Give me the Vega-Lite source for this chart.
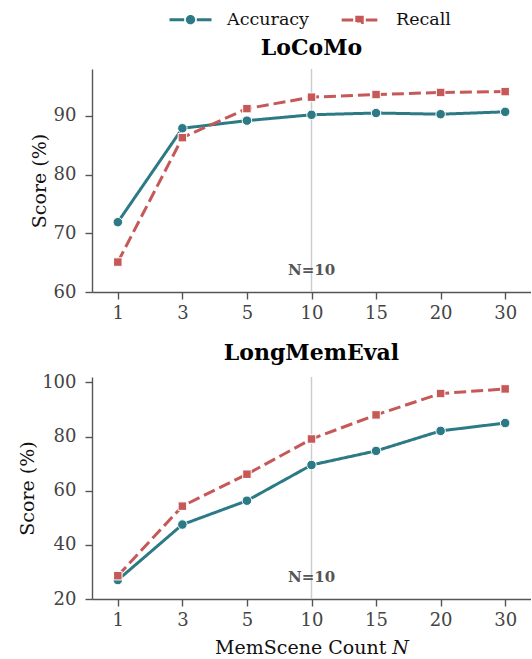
{
  "$schema": "https://vega.github.io/schema/vega-lite/v6.json",
  "padding": {"left": 18, "right": 0, "top": -3, "bottom": 0},
  "config": {
    "font": "DejaVu Serif",
    "view": {"stroke": null},
    "axis": {"grid": false, "domainColor": "#555", "tickColor": "#555", "labelFont": "DejaVu Serif", "titleFont": "DejaVu Serif", "labelColor": "#444", "labelFontSize": 18, "titleFontSize": 19, "titleFontWeight": "normal", "titleColor": "#111", "domainWidth": 1.4, "tickWidth": 1.4, "tickSize": 7, "labelPadding": 9},
    "axisX": {"titlePadding": 9, "labelPadding": 5},
    "title": {"font": "DejaVu Serif", "fontSize": 22, "fontWeight": "bold", "color": "#000", "offset": 8},
    "legend": {"labelFont": "DejaVu Serif", "labelFontSize": 17.5, "labelColor": "#111", "title": null, "symbolStrokeWidth": 3, "symbolSize": 1764, "columnPadding": 26, "labelOffset": 14},
    "text": {"font": "DejaVu Serif"}
  },
  "datasets": {
    "locomo": [
      {"N": 1, "metric": "Accuracy", "score": 71.9},
      {"N": 3, "metric": "Accuracy", "score": 87.9},
      {"N": 5, "metric": "Accuracy", "score": 89.2},
      {"N": 10, "metric": "Accuracy", "score": 90.2},
      {"N": 15, "metric": "Accuracy", "score": 90.5},
      {"N": 20, "metric": "Accuracy", "score": 90.3},
      {"N": 30, "metric": "Accuracy", "score": 90.7},
      {"N": 1, "metric": "Recall", "score": 65.1},
      {"N": 3, "metric": "Recall", "score": 86.3},
      {"N": 5, "metric": "Recall", "score": 91.25},
      {"N": 10, "metric": "Recall", "score": 93.2},
      {"N": 15, "metric": "Recall", "score": 93.65},
      {"N": 20, "metric": "Recall", "score": 94.0},
      {"N": 30, "metric": "Recall", "score": 94.15}
    ],
    "longmem": [
      {"N": 1, "metric": "Accuracy", "score": 27.0},
      {"N": 3, "metric": "Accuracy", "score": 47.5},
      {"N": 5, "metric": "Accuracy", "score": 56.3},
      {"N": 10, "metric": "Accuracy", "score": 69.5},
      {"N": 15, "metric": "Accuracy", "score": 74.7},
      {"N": 20, "metric": "Accuracy", "score": 82.1},
      {"N": 30, "metric": "Accuracy", "score": 85.0},
      {"N": 1, "metric": "Recall", "score": 28.6},
      {"N": 3, "metric": "Recall", "score": 54.3},
      {"N": 5, "metric": "Recall", "score": 66.1},
      {"N": 10, "metric": "Recall", "score": 79.1},
      {"N": 15, "metric": "Recall", "score": 88.0},
      {"N": 20, "metric": "Recall", "score": 95.9},
      {"N": 30, "metric": "Recall", "score": 97.6}
    ],
    "marker": [{"N": 10, "label": "N=10"}]
  },
  "vconcat": [
    {
      "width": 439,
      "height": 223,
      "title": "LoCoMo",
      "encoding": {
        "x": {"field": "N", "type": "ordinal", "scale": {"type": "point", "padding": 0.4}, "axis": {"labelAngle": 0, "title": null}}
      },
      "layer": [
        {"data": {"name": "marker"}, "mark": {"type": "rule", "color": "#cccccc", "strokeWidth": 1.5}, "encoding": {}},
        {"data": {"name": "marker"}, "mark": {"type": "text", "fontWeight": "bold", "color": "#555", "fontSize": 15, "baseline": "middle"}, "encoding": {"y": {"datum": 63.7, "type": "quantitative", "scale": {"domain": [60, 98], "nice": false, "zero": false}}, "text": {"field": "label"}}},
        {"data": {"name": "locomo"}, "mark": {"type": "line", "strokeWidth": 3}, "encoding": {
          "y": {"field": "score", "type": "quantitative", "scale": {"domain": [60, 98], "nice": false, "zero": false}, "axis": {"values": [60, 70, 80, 90], "title": "Score (%)"}},
          "color": {"field": "metric", "type": "nominal", "scale": {"domain": ["Accuracy", "Recall"], "range": ["#2c7a85", "#c65858"]}, "legend": {"orient": "none", "legendX": 76, "legendY": -72, "direction": "horizontal",
            "encode": {"symbols": {"update": {
              "shape": {"signal": "datum.value == 'Accuracy' ? 'M-1,0L-0.3,0M0.3,0L1,0M0.15,0A0.15,0.15 0 1 1 -0.15,0A0.15,0.15 0 1 1 0.15,0Z' : 'M-0.85,0L-0.3,0M0.3,0L0.85,0M-0.13,-0.13L0.13,-0.13L0.13,0.13L-0.13,0.13Z'"},
              "fill": {"signal": "datum.value == 'Accuracy' ? '#2c7a85' : '#c65858'"},
              "strokeDash": {"value": [1, 0]}
            }}}}},
          "strokeDash": {"field": "metric", "type": "nominal", "scale": {"domain": ["Accuracy", "Recall"], "range": [[1, 0], [12, 5]]}}
        }},
        {"data": {"name": "locomo"}, "transform": [{"filter": "datum.metric == 'Accuracy'"}], "mark": {"type": "point", "shape": "circle", "filled": true, "color": "#2c7a85", "stroke": "white", "strokeWidth": 1, "size": 90, "opacity": 1}, "encoding": {
          "y": {"field": "score", "type": "quantitative", "scale": {"domain": [60, 98], "nice": false, "zero": false}}
        }},
        {"data": {"name": "locomo"}, "transform": [{"filter": "datum.metric == 'Recall'"}], "mark": {"type": "point", "shape": "square", "filled": true, "color": "#c65858", "stroke": "white", "strokeWidth": 1, "size": 72, "opacity": 1}, "encoding": {
          "y": {"field": "score", "type": "quantitative", "scale": {"domain": [60, 98], "nice": false, "zero": false}}
        }}
      ]
    },
    {
      "width": 439,
      "height": 222,
      "title": "LongMemEval",
      "encoding": {
        "x": {"field": "N", "type": "ordinal", "scale": {"type": "point", "padding": 0.4}, "axis": {"labelAngle": 0, "title": "MemScene Count 𝑁"}}
      },
      "layer": [
        {"data": {"name": "marker"}, "mark": {"type": "rule", "color": "#cccccc", "strokeWidth": 1.5}, "encoding": {}},
        {"data": {"name": "marker"}, "mark": {"type": "text", "fontWeight": "bold", "color": "#555", "fontSize": 15, "baseline": "middle"}, "encoding": {"y": {"datum": 28.2, "type": "quantitative", "scale": {"domain": [20, 102], "nice": false, "zero": false}}, "text": {"field": "label"}}},
        {"data": {"name": "longmem"}, "mark": {"type": "line", "strokeWidth": 3}, "encoding": {
          "y": {"field": "score", "type": "quantitative", "scale": {"domain": [20, 102], "nice": false, "zero": false}, "axis": {"values": [20, 40, 60, 80, 100], "title": "Score (%)"}},
          "color": {"field": "metric", "type": "nominal"},
          "strokeDash": {"field": "metric", "type": "nominal"}
        }},
        {"data": {"name": "longmem"}, "transform": [{"filter": "datum.metric == 'Accuracy'"}], "mark": {"type": "point", "shape": "circle", "filled": true, "color": "#2c7a85", "stroke": "white", "strokeWidth": 1, "size": 90, "opacity": 1}, "encoding": {
          "y": {"field": "score", "type": "quantitative", "scale": {"domain": [20, 102], "nice": false, "zero": false}}
        }},
        {"data": {"name": "longmem"}, "transform": [{"filter": "datum.metric == 'Recall'"}], "mark": {"type": "point", "shape": "square", "filled": true, "color": "#c65858", "stroke": "white", "strokeWidth": 1, "size": 72, "opacity": 1}, "encoding": {
          "y": {"field": "score", "type": "quantitative", "scale": {"domain": [20, 102], "nice": false, "zero": false}}
        }}
      ]
    }
  ],
  "spacing": 20
}
